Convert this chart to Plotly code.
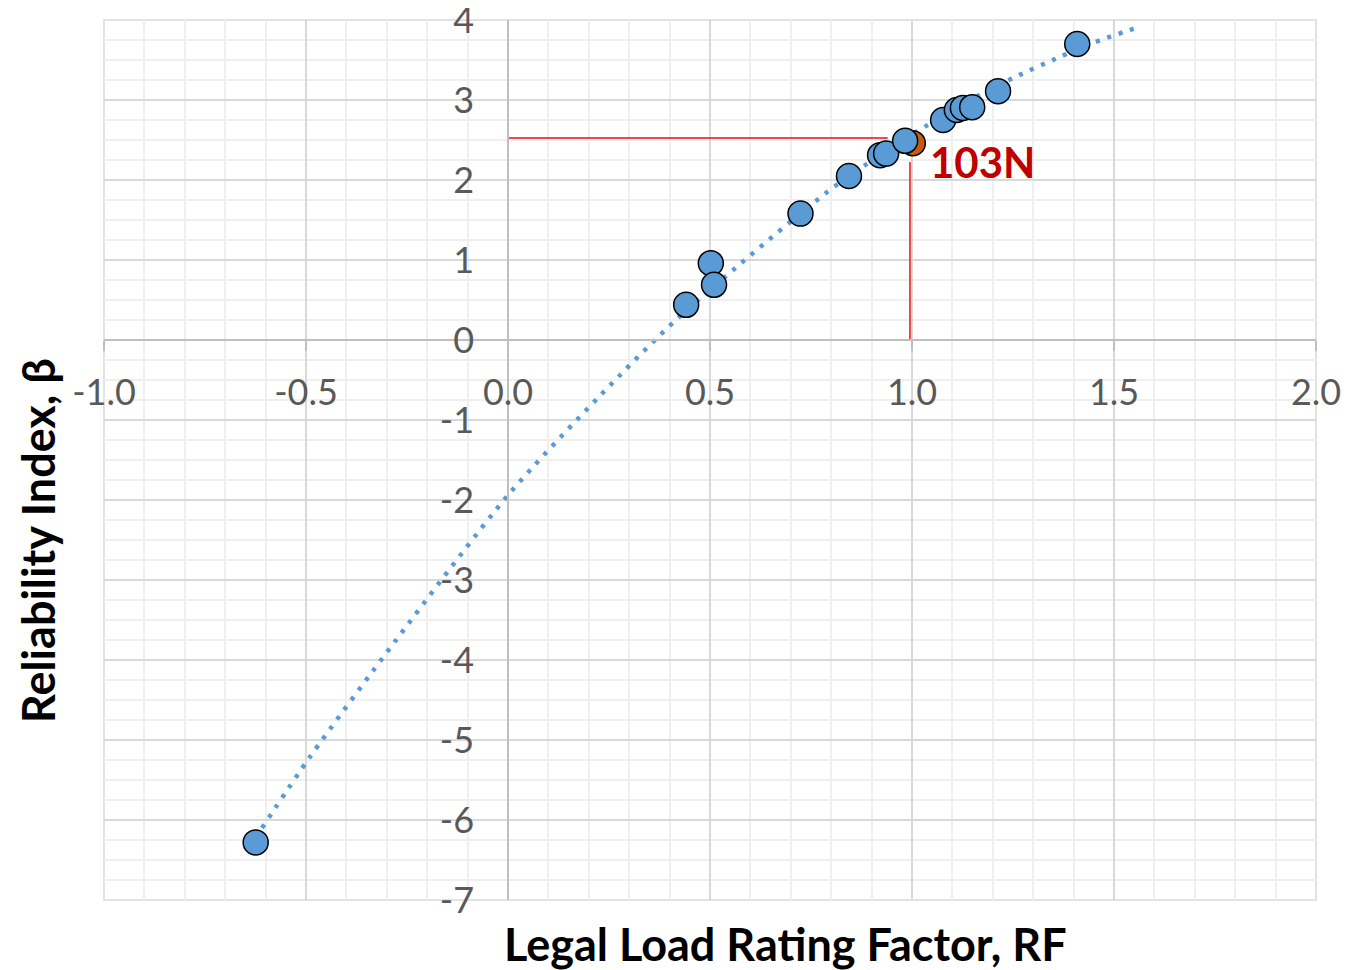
import plotly.graph_objects as go

# ---- data ----
rf_blue = [-0.6245, 0.441, 0.502, 0.510, 0.724, 0.844, 0.921, 0.936, 0.983,
           1.077, 1.111, 1.126, 1.149, 1.213, 1.409]
beta_blue = [-6.28, 0.44, 0.96, 0.69, 1.58, 2.05, 2.31, 2.33, 2.49,
             2.75, 2.875, 2.90, 2.91, 3.11, 3.70]
rf_orange = [1.002]
beta_orange = [2.46]
label_text = "103N"
label_pos = [1.175, 2.22]

# trendline (polynomial in the original)
trend_rf = [-0.609, -0.490, -0.277, 0.0, 0.229, 0.420, 0.790, 0.888, 1.040,
            1.172, 1.252, 1.362, 1.446, 1.560]
trend_beta = [-6.10, -5.21, -3.75, -1.94, -0.69, 0.27, 1.85, 2.20, 2.69,
              3.075, 3.28, 3.53, 3.71, 3.91]

# red guide lines
guide_h_x = [0.0, 0.94]
guide_h_y = [2.525, 2.525]
guide_v_x = [0.995, 0.995]
guide_v_y = [0.0, 2.225]

x_ticks = [-1.0, -0.5, 0.0, 0.5, 1.0, 1.5, 2.0]
x_ticklabels = ["-1.0", "-0.5", "0.0", "0.5", "1.0", "1.5", "2.0"]
y_ticks = [4, 3, 2, 1, 0, -1, -2, -3, -4, -5, -6, -7]
y_ticklabels = ["4", "3", "2", "1", "0", "-1", "-2", "-3", "-4", "-5", "-6", "-7"]

BLUE = "#5b9bd5"
ORANGE = "#c55a11"
RED = "#e81010"
FONT = "Lato"

fig = go.Figure()

fig.add_trace(go.Scatter(x=guide_h_x, y=guide_h_y, mode="lines",
                         line=dict(color=RED, width=1.5), hoverinfo="skip"))
fig.add_trace(go.Scatter(x=guide_v_x, y=guide_v_y, mode="lines",
                         line=dict(color=RED, width=1.5), hoverinfo="skip"))
fig.add_trace(go.Scatter(x=trend_rf, y=trend_beta, mode="lines",
                         line=dict(color=BLUE, width=4.5, dash="4px,8px",
                                   shape="spline", smoothing=0.8)))
fig.add_trace(go.Scatter(x=rf_orange, y=beta_orange, mode="markers",
                         marker=dict(size=25, color=ORANGE,
                                     line=dict(color="black", width=1.5))))
fig.add_trace(go.Scatter(x=rf_blue, y=beta_blue, mode="markers",
                         marker=dict(size=25, color=BLUE,
                                     line=dict(color="black", width=1.5))))

fig.add_annotation(x=label_pos[0], y=label_pos[1], text=label_text,
                   showarrow=False, xanchor="center", yanchor="middle",
                   font=dict(family=FONT, size=42, color="#c00000", weight="bold"))

# axis titles as annotations
fig.add_annotation(x=0.5627, y=-0.05, xref="paper", yref="paper",
                   text="<b>Legal Load Rating Factor, RF</b>", showarrow=False,
                   xanchor="center", yanchor="middle",
                   font=dict(family=FONT, size=45, color="black"))
fig.add_annotation(x=-0.0545, y=0.409, xref="paper", yref="paper",
                   text="<b>Reliability Index, β</b>", showarrow=False,
                   textangle=-90, xanchor="center", yanchor="middle",
                   font=dict(family=FONT, size=45, color="black"))

# plot-area frame
fig.add_shape(type="rect", xref="paper", yref="paper", x0=0, y0=0, x1=1, y1=1,
              line=dict(color="#d9d9d9", width=1.5), layer="below")

fig.update_layout(
    width=1349, height=970,
    margin=dict(l=96, r=41, t=12, b=78, autoexpand=False),
    plot_bgcolor="white", paper_bgcolor="white",
    showlegend=False,
    xaxis=dict(range=[-1, 2], tickvals=x_ticks, ticktext=x_ticklabels,
               showgrid=True, gridcolor="#d9d9d9", gridwidth=1.5,
               minor=dict(dtick=0.1, showgrid=True, gridcolor="#efefef", gridwidth=1.5),
               zeroline=False, showline=True, linecolor="#bfbfbf", linewidth=1.5,
               anchor="free", position=7 / 11, automargin=False,
               ticks="outside", ticklen=10, tickcolor="#bfbfbf", tickwidth=1.5,
               ticklabelstandoff=11, ticklabeloverflow="allow",
               tickfont=dict(family=FONT, size=36, color="#595959")),
    yaxis=dict(range=[-7, 4], tickvals=y_ticks, ticktext=y_ticklabels,
               showgrid=True, gridcolor="#d9d9d9", gridwidth=1.5,
               minor=dict(dtick=0.25, showgrid=True, gridcolor="#efefef", gridwidth=1.5),
               zeroline=False, showline=True, linecolor="#bfbfbf", linewidth=1.5,
               anchor="free", position=1 / 3, automargin=False,
               ticks="", ticklabelstandoff=26, ticklabeloverflow="allow",
               tickfont=dict(family=FONT, size=36, color="#595959")),
)

fig.write_html("out.html")
